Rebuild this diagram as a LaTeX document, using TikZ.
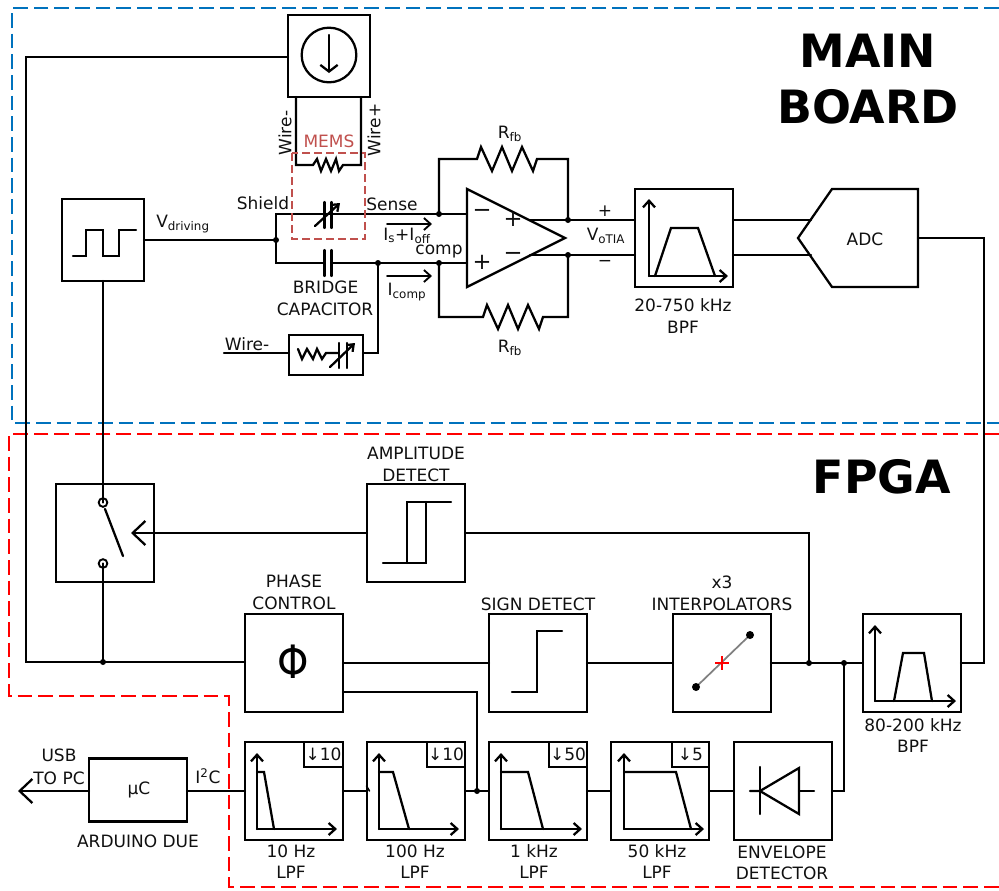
\documentclass[tikz,border=0pt]{standalone}
\usepackage{fontspec}
\setmainfont{DejaVu Sans}
\usetikzlibrary{arrows.meta,calc}
\definecolor{blueln}{RGB}{0,114,189}
\definecolor{redln}{RGB}{255,0,0}
\definecolor{memsc}{RGB}{192,80,77}
\definecolor{ink}{RGB}{0,0,0}
\definecolor{txt}{RGB}{16,16,16}
\tikzset{
  x=0.75pt,y=-0.75pt,
  wire/.style={draw=ink,line width=1.7pt,line cap=round,line join=miter},
  blk/.style={draw=ink,line width=1.7pt,rectangle,inner sep=0pt,outer sep=0pt},
  sq/.style={blk,minimum width=73.5pt,minimum height=73.5pt},
  dotj/.style={circle,fill=ink,draw=none,minimum size=4.5pt,inner sep=0pt},
  lab/.style={font=\fontsize{12.75}{15}\selectfont,text=txt,inner sep=0pt,align=center},
  big/.style={font=\fontsize{34.4}{40}\selectfont\bfseries,text=ink,inner sep=0pt},
  bigarrow/.style={-{Straight Barb[length=9.5pt,width=18pt,line width=1.7pt]}},
  axarrow/.style={-{Straight Barb[length=5pt,width=9pt,line width=1.7pt]}},
  iarrow/.style={-{Straight Barb[length=5pt,width=9pt,line width=1.4pt]}},
  term/.style={draw=ink,line width=1.4pt,circle,minimum size=6.5pt,inner sep=0pt},
}
\begin{document}
\begin{tikzpicture}
\useasboundingbox (0,0) rectangle (999,890);
% regions
\draw[blueln,line width=1.6pt,dash pattern=on 11pt off 4.5pt] (999,8) -- (12,8) -- (12,423) -- (999,423);
\draw[redln,line width=1.6pt,dash pattern=on 11pt off 4.5pt] (999,434) -- (9,434) -- (9,696) -- (229,696) -- (229,887) -- (999,887);
\node[big] (tmain) at (868,51) {MAIN};
\node[big] (tboard) at (868,107) {BOARD};
\node[big] (tfpga) at (882,477) {FPGA};
% blocks
\node[blk,minimum width=61.5pt,minimum height=61.5pt] (src) at (329,56) {};
\node[blk,minimum width=61.5pt,minimum height=61.5pt] (drv) at (103,240) {};
\node[blk,minimum width=55.5pt,minimum height=30pt] (trim) at (326,355) {};
\node[sq] (bpfa) at (684,238) {};
\node[sq] (sw) at (105,533) {};
\node[sq] (amp) at (416,533) {};
\node[sq] (phase) at (294,663) {};
\node[sq] (sign) at (538,663) {};
\node[sq] (interp) at (722,663) {};
\node[sq] (bpfb) at (912,663) {};
\node[sq] (lpfa) at (294,791) {};
\node[sq] (lpfb) at (416,791) {};
\node[sq] (lpfc) at (538,791) {};
\node[sq] (lpfd) at (660,791) {};
\node[sq] (env) at (783,791) {};
\node[blk,minimum width=73.5pt,minimum height=47.25pt] (uc) at (138,790) {};
\node[blk,minimum width=29pt,minimum height=18.75pt] (da) at (323.5,754.5) {};
\node[blk,minimum width=29pt,minimum height=18.75pt] (db) at (446,754.5) {};
\node[blk,minimum width=29pt,minimum height=18.75pt] (dc) at (568,754.5) {};
\node[blk,minimum width=28pt,minimum height=18.75pt] (dd) at (690.5,754.5) {};
\draw[wire] (798,238) -- (832,189) -- (918,189) -- (918,287) -- (832,287) -- cycle;
\coordinate (adct) at (811,220);
\coordinate (adcb) at (811,255);
\coordinate (adco) at (918,238);
% op amp
\draw[wire] (467,189) -- (565,238) -- (467,287) -- cycle;
\coordinate (oam) at (467,214);
\coordinate (oap) at (467,263);
\coordinate (oot) at (530,220);
\coordinate (oob) at (530,255);
% junctions
\node[dotj] (js) at (276,240) {};
\node[dotj] (jsense) at (439,214) {};
\node[dotj] (jcomp) at (439,263) {};
\node[dotj] (jtrim) at (378,263) {};
\node[dotj] (jot) at (568,220) {};
\node[dotj] (job) at (568,255) {};
\node[dotj] (jdrv) at (103,662) {};
\node[dotj] (jamp) at (809,663) {};
\node[dotj] (jenv) at (844,663) {};
\node[dotj] (jph) at (477,791) {};
% current source
\node[draw=ink,line width=1.7pt,circle,minimum size=41pt,inner sep=0pt] (srcc) at (329,55) {};
\draw[wire,-{Straight Barb[length=5pt,width=13pt,line width=1.7pt]}] (329,35) -- (329,73);
% wires top
\coordinate (lt) at (26,57);
\draw[wire] (src.west |- lt) -- (lt) -- (26,662) -- (jdrv.center) -- (phase.west |- jdrv);
\coordinate (wl) at (296,165);
\coordinate (wr) at (361,165);
\draw[wire] (296,97) -- (wl) -- (313,165) -- (317,159) -- (321,171) -- (326,159) -- (331,171) -- (336,159) -- (339,171) -- (343,165) -- (wr) -- (361,97);
\draw[wire] (drv.east) -- (js.center);
\draw[wire] (oam) -- (jsense.center) -- (276,214) -- (276,263) -- (324.5,263);
\draw[wire] (331.5,263) -- (oap);
% caps
\draw[wire] (324.5,202) -- (324.5,228);
\draw[wire] (331.5,202) -- (331.5,228);
\draw[wire,-{Straight Barb[length=4.5pt,width=7pt,line width=1.7pt]}] (315,226) -- (340,203);
\draw[wire] (324.5,250) -- (324.5,276);
\draw[wire] (331.5,250) -- (331.5,276);
% trim
\coordinate (wmin) at (224,353);
\draw[wire] (wmin) -- (trim.west |- wmin);
\draw[wire] (jtrim.center) -- (378,353) -- (trim.east |- wmin);
\draw[wire] (298,349) -- (302,359) -- (307,349) -- (313,359) -- (317,349) -- (322,359) -- (326,353) -- (339,353);
\draw[wire] (339,343) -- (339,368);
\draw[wire] (347,343) -- (347,368);
\draw[wire,-{Straight Barb[length=4.5pt,width=7pt,line width=1.7pt]}] (330,367) -- (355,343);
% feedback
\draw[wire] (jsense.center) -- (439,159) -- (477,159) -- (481,147) -- (492,171) -- (502,147) -- (512,171) -- (522,147) -- (533,171) -- (537,159) -- (568,159) -- (jot.center);
\draw[wire] (jcomp.center) -- (439,317) -- (483,317) -- (487,305) -- (498,329) -- (508,305) -- (518,329) -- (528,305) -- (539,329) -- (543,317) -- (568,317) -- (job.center);
% amp outputs
\draw[wire] (oot) -- (jot.center) -- (bpfa.west |- jot);
\draw[wire] (oob) -- (job.center) -- (bpfa.west |- job);
\draw[wire] (bpfa.east |- adct) -- (adct);
\draw[wire] (bpfa.east |- adcb) -- (adcb);
\draw[wire] (adco) -- (984,238) -- (984,663) -- (bpfb.east);
% current arrows
\draw[wire,line width=1.4pt,iarrow] (387,224) -- (432,224);
\draw[wire,line width=1.4pt,iarrow] (387,276) -- (432,276);
% pulse
\draw[wire] (73,256) -- (86,256) -- (86,230) -- (103,230) -- (103,256) -- (119,256) -- (119,230) -- (136,230);
% switch
\node[term] (ta) at (103,502.5) {};
\node[term] (tb) at (103,563.5) {};
\draw[wire] (drv.south) -- (ta.center);
\draw[wire] (105,509) -- (123,556);
\draw[wire] (tb.center) -- (jdrv.center);
\draw[wire,bigarrow] (amp.west) -- (131,533);
% amplitude
\draw[wire] (383,563) -- (426,563) -- (426,502);
\draw[wire] (407,563) -- (407,502) -- (451,502);
\draw[wire] (amp.east) -- (809,533) -- (jamp.center);
% phase
\node[inner sep=0pt,font=\fontsize{30}{32}\selectfont,text=ink,yscale=1.15,transform shape] (phi) at (293,662) {Φ};
\draw[wire] (phase.east) -- (sign.west);
\coordinate (phl) at (477,692);
\draw[wire] (phase.east |- phl) -- (phl) -- (jph.center);
% sign
\draw[wire] (512,692) -- (537,692) -- (537,631) -- (562,631);
\draw[wire] (sign.east) -- (interp.west);
% interp
\draw[line width=1.3pt,color=gray] (696,687) -- (750,635);
\node[dotj,minimum size=6pt] (ia) at (696,687) {};
\node[dotj,minimum size=6pt] (ib) at (750,635) {};
\draw[redln,line width=1.6pt] (715,663) -- (729,663) (722,656) -- (722,670);
\draw[wire] (interp.east) -- (jamp.center) -- (jenv.center) -- (bpfb.west);
% BPF b graph
\draw[wire,axarrow] (875,701) -- (875,625);
\draw[wire,axarrow] (875,701) -- (956,701);
\draw[wire] (894,701) -- (903,653) -- (924,653) -- (932,701);
% BPF a graph
\draw[wire,axarrow] (649,276) -- (649,199);
\draw[wire,axarrow] (649,276) -- (728,276);
\draw[wire] (655,276) -- (671,228) -- (698,228) -- (715,276);
% LPF graphs
\draw[wire,axarrow] (257,829) -- (257,753);
\draw[wire,axarrow] (257,829) -- (337,829);
\draw[wire] (257,772) -- (264,772) -- (274,829);
\draw[wire,axarrow] (379,829) -- (379,753);
\draw[wire,axarrow] (379,829) -- (459,829);
\draw[wire] (379,772) -- (393,772) -- (409,829);
\draw[wire,axarrow] (501,829) -- (501,753);
\draw[wire,axarrow] (501,829) -- (582,829);
\draw[wire] (501,772) -- (528,772) -- (543,829);
\draw[wire,axarrow] (624,829) -- (624,753);
\draw[wire,axarrow] (624,829) -- (704,829);
\draw[wire] (624,772) -- (676,772) -- (691,829);
% bottom chain
\draw[wire] (lpfa.east) -- (lpfb.west);
\draw[wire,line width=1.2pt] (366.5,786) -- (369.5,791);
\draw[wire] (lpfb.east) -- (jph.center) -- (lpfc.west);
\draw[wire] (lpfc.east) -- (lpfd.west);
\draw[wire] (lpfd.east) -- (env.west);
\draw[wire] (env.east) -- (844,791) -- (jenv.center);
\draw[wire] (uc.east |- lpfa.west) -- (lpfa.west);
\coordinate (usb) at (18,791);
\draw[wire,bigarrow] (uc.west |- usb) -- (usb);
% diode
\draw[wire] (760,767) -- (760,814);
\draw[wire] (750,791) -- (760,791) -- (799,768) -- (799,814) -- (760,791);
\draw[wire] (799,791) -- (814,791);
% labels
\node[lab,rotate=90] (lwm) at (285,133) {Wire-};
\node[lab,rotate=90] (lwp) at (374,130) {Wire+};
\node[lab,text=memsc] (lmems) at (329,141) {MEMS};
\draw[memsc,line width=1.6pt,dash pattern=on 6pt off 3pt] (292,153) rectangle (365,239);
\node[lab] (lshield) at (263,203) {Shield};
\node[lab] (lsense) at (392,204) {Sense};
\node[lab] (lv) at (183,224) {V\textsubscript{driving}};
\node[lab] (lis) at (407,236) {I\textsubscript{s}+I\textsubscript{off}};
\node[lab] (lcomp) at (439,251) {comp};
\node[lab] (lic) at (407,292) {I\textsubscript{comp}};
\node[lab] (lbr) at (325.5,287) {BRIDGE};
\node[lab] (lcap) at (325,309) {CAPACITOR};
\node[lab] (lwm2) at (247,344) {Wire-};
\node[lab] (lrt) at (510,134) {R\textsubscript{fb}};
\node[lab] (lrb) at (510,348) {R\textsubscript{fb}};
\node[lab] (lvp) at (605,211) {+};
\node[lab] (lvo) at (606,236) {V\textsubscript{oTIA}};
\node[lab] (lvm) at (605,263) {−};
\node[lab] (oa1) at (482,213) {\fontsize{17}{17}\selectfont −};
\node[lab] (oa2) at (513,219) {\fontsize{17}{17}\selectfont +};
\node[lab] (oa3) at (482,262) {\fontsize{17}{17}\selectfont +};
\node[lab] (oa4) at (513,256) {\fontsize{17}{17}\selectfont −};
\node[lab] (lba1) at (683,305) {20-750 kHz};
\node[lab] (lba2) at (683,327) {BPF};
\node[lab] (ladc) at (865,239) {ADC};
\node[lab] (lam1) at (416,453) {AMPLITUDE};
\node[lab] (lam2) at (416,475) {DETECT};
\node[lab] (lph1) at (294,581) {PHASE};
\node[lab] (lph2) at (294,603) {CONTROL};
\node[lab] (lsg) at (538,604) {SIGN DETECT};
\node[lab] (lx3) at (722,582) {x3};
\node[lab] (lint) at (722,604) {INTERPOLATORS};
\node[lab] (lbb1) at (913,725) {80-200 kHz};
\node[lab] (lbb2) at (913,746) {BPF};
\node[lab] (lda) at (323.5,754) {↓10};
\node[lab] (ldb) at (446,754) {↓10};
\node[lab] (ldc) at (568,754) {↓50};
\node[lab] (ldd) at (690.5,754) {↓5};
\node[lab] (l1a) at (291,851) {10 Hz};
\node[lab] (l1b) at (291,872) {LPF};
\node[lab] (l2a) at (415,851) {100 Hz};
\node[lab] (l2b) at (415,872) {LPF};
\node[lab] (l3a) at (534,851) {1 kHz};
\node[lab] (l3b) at (534,872) {LPF};
\node[lab] (l4a) at (657,851) {50 kHz};
\node[lab] (l4b) at (657,872) {LPF};
\node[lab] (l5a) at (782,852) {ENVELOPE};
\node[lab] (l5b) at (782,873) {DETECTOR};
\node[lab] (lusb) at (59,755) {USB};
\node[lab] (lpc) at (59,778) {TO PC};
\node[lab] (luc) at (139,790) {µC};
\node[lab] (lard) at (138,841) {ARDUINO DUE};
\node[lab] (li2c) at (208,776) {I\textsuperscript{2}C};
\end{tikzpicture}
\end{document}
